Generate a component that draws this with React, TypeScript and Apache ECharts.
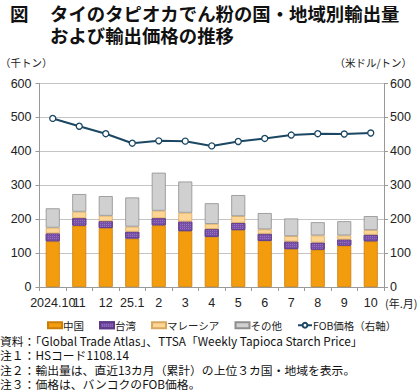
import React, { useEffect, useRef } from "react";
import * as echarts from "echarts";

const categories = ["2024.10", "11", "12", "25.1", "2", "3", "4", "5", "6", "7", "8", "9", "10"];
const china = [135, 181, 174, 143, 182, 165, 148, 168, 136, 112, 110, 122, 135];
const taiwan = [23, 22, 20, 20, 21, 28, 23, 21, 21, 22, 21, 18, 19];
const malaysia = [17, 19, 16, 15, 22, 26, 15, 20, 13, 16, 21, 12, 14];
const others = [57, 52, 58, 86, 112, 92, 61, 62, 48, 52, 39, 42, 41];
const fob = [497, 474, 452, 424, 431, 430, 416, 429, 438, 448, 452, 451, 454];

const JP = '"Noto Sans CJK JP", "Noto Sans", sans-serif';
const NUM = '"Liberation Sans", Arial, sans-serif';

export default function App() {
  const ref = useRef<HTMLDivElement>(null);
  useEffect(() => {
    if (!ref.current) return;
    const chart = echarts.init(ref.current, null, { renderer: "svg" });
    const barCommon = {
      type: "bar",
      stack: "total",
      barWidth: 14,
      yAxisIndex: 0,
    };
    const note = (text: string, y: number) => ({
      type: "text",
      x: 0,
      y,
      style: { text, font: `11.8px ${JP}`, fill: "#111", verticalAlign: "middle" },
    });
    chart.setOption({
      animation: false,
      backgroundColor: "#ffffff",
      grid: { left: 39.5, right: 36, top: 83.5, bottom: 103, containLabel: false },
      legend: {
        left: 42,
        top: 315,
        itemWidth: 14,
        itemHeight: 6,
        itemGap: 15,
        textStyle: { fontFamily: JP, fontSize: 10.5, color: "#222", padding: [0, 0, 0, -4] },
        data: [
          { name: "中国", icon: "rect" },
          { name: "台湾", icon: "rect" },
          { name: "マレーシア", icon: "rect" },
          { name: "その他", icon: "rect" },
          { name: "FOB価格（右軸）" },
        ],
      },
      xAxis: {
        type: "category",
        data: categories,
        axisLine: { lineStyle: { color: "#999" } },
        axisTick: { show: true, length: 4, lineStyle: { color: "#999" } },
        axisLabel: {
          interval: 0,
          hideOverlap: false,
          fontFamily: NUM,
          fontSize: 12.5,
          color: "#222",
          margin: 9,
        },
      },
      yAxis: [
        {
          type: "value",
          min: 0,
          max: 600,
          interval: 100,
          axisLine: { show: true, lineStyle: { color: "#999" } },
          axisTick: { show: true, length: 4, lineStyle: { color: "#999" } },
          splitLine: { lineStyle: { color: "#c4c4c4" } },
          axisLabel: { fontFamily: NUM, fontSize: 12.5, color: "#222", margin: 8 },
        },
        {
          type: "value",
          min: 0,
          max: 600,
          interval: 100,
          position: "right",
          axisLine: { show: true, lineStyle: { color: "#999" } },
          axisTick: { show: true, length: 4, lineStyle: { color: "#999" } },
          splitLine: { show: false },
          axisLabel: { fontFamily: NUM, fontSize: 12.5, color: "#222", margin: 6 },
        },
      ],
      series: [
        {
          ...barCommon,
          name: "中国",
          data: china,
          itemStyle: { color: "#F39C0E", borderColor: "#C97E08", borderWidth: 0.8 },
        },
        {
          ...barCommon,
          name: "台湾",
          data: taiwan,
          itemStyle: {
            color: "#7850A8",
            borderColor: "#5E3A8A",
            borderWidth: 0.8,
            decal: {
              symbol: "rect",
              symbolSize: 1,
              dashArrayX: [1, 1],
              dashArrayY: [1, 1],
              color: "rgba(170,140,210,0.6)",
            },
          },
        },
        {
          ...barCommon,
          name: "マレーシア",
          data: malaysia,
          itemStyle: { color: "#FDD595", borderColor: "#D8A860", borderWidth: 0.8 },
        },
        {
          ...barCommon,
          name: "その他",
          data: others,
          itemStyle: { color: "#D0D0D0", borderColor: "#8E8E8E", borderWidth: 0.8 },
        },
        {
          type: "line",
          name: "FOB価格（右軸）",
          yAxisIndex: 1,
          data: fob,
          symbol: "circle",
          symbolSize: 6,
          lineStyle: { color: "#1B4763", width: 2 },
          itemStyle: { color: "#ffffff", borderColor: "#1B4763", borderWidth: 1.3 },
          z: 5,
        },
      ],
      graphic: [
        { type: "text", left: 10, top: 4, style: { text: "図", font: `bold 18.5px ${JP}`, fill: "#111" } },
        { type: "text", left: 50, top: 4, style: { text: "タイのタピオカでん粉の国・地域別輸出量", font: `bold 18.4px ${JP}`, fill: "#111" } },
        { type: "text", left: 50, top: 26, style: { text: "および輸出価格の推移", font: `bold 18.4px ${JP}`, fill: "#111" } },
        { type: "text", left: 0, top: 57, style: { text: "（千トン）", font: `10.5px ${JP}`, fill: "#222" } },
        { type: "text", right: 8, top: 57, style: { text: "（米ドル/トン）", font: `10.5px ${JP}`, fill: "#222" } },
        { type: "text", x: 385, y: 303, style: { text: "(年.月)", font: `11px ${JP}`, fill: "#222", verticalAlign: "middle" } },
        note("資料：「Global Trade Atlas」、TTSA「Weekly Tapioca Starch Price」", 340),
        note("注１：HSコード1108.14", 354.5),
        note("注２：輸出量は、直近13カ月（累計）の上位３カ国・地域を表示。", 369),
        note("注３：価格は、バンコクのFOB価格。", 383),
      ],
    });
    return () => chart.dispose();
  }, []);
  return <div ref={ref} style={{ position: "fixed", left: 0, top: 0, width: 420, height: 390 }} />;
}
